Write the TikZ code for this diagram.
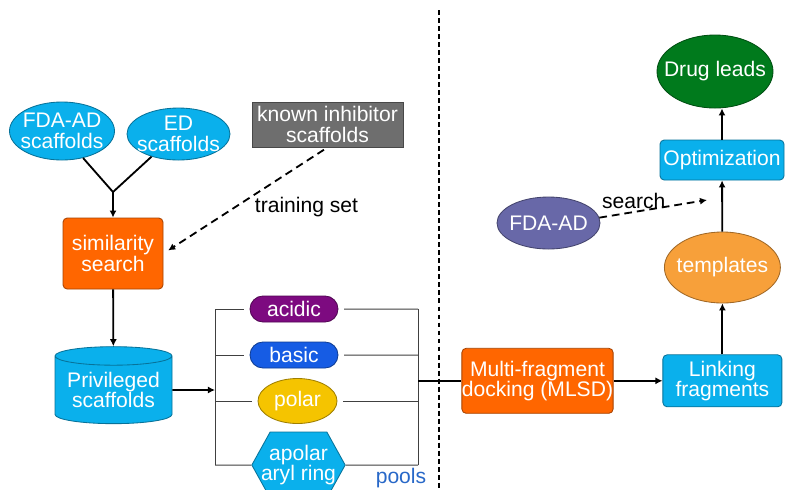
\documentclass[tikz,border=0pt]{standalone}
\usepackage{fontspec}
\setmainfont{Liberation Sans}
\usetikzlibrary{arrows.meta, positioning, shapes.geometric, shapes.misc, shapes.symbols}

\definecolor{skyfill}{RGB}{10,176,236}
\definecolor{orangefill}{RGB}{255,102,0}
\definecolor{tmplfill}{RGB}{247,160,58}
\definecolor{leadfill}{RGB}{0,122,28}
\definecolor{acidfill}{RGB}{125,10,128}
\definecolor{basefill}{RGB}{22,92,228}
\definecolor{polarfill}{RGB}{245,196,0}
\definecolor{knownfill}{RGB}{110,110,110}
\definecolor{slatefill}{RGB}{104,104,168}
\definecolor{poolblue}{RGB}{40,104,200}

\begin{document}
\begin{tikzpicture}[
  >={Latex[length=5pt,width=5pt]},
  every node/.style={font=\fontsize{15}{14.5}\selectfont},
  filled/.style={
    fill=#1, draw=#1!65!black, line width=0.6pt,
    text=white, align=center
  },
  blob/.style={ellipse, inner xsep=-8pt, inner ysep=-4pt},
  procbox/.style={rectangle, rounded corners=3pt, inner sep=0pt},
  pool/.style={rounded rectangle, inner sep=0pt,
    minimum width=2.2cm, minimum height=0.65cm},
  arr/.style={->, line width=1.3pt},
  dasharr/.style={->, line width=1.3pt, dash pattern=on 5.5pt off 3.5pt},
  brk/.style={line width=0.7pt, draw=black!75},
]

  \useasboundingbox[fill=white] (0,0) rectangle (19.625,-12.225);

  % -------------------------------------------------------
  %  Scaffold sources
  % -------------------------------------------------------
  \node[blob, filled=skyfill, minimum width=2.625cm, minimum height=1.45cm]
    (fdaS) at (1.55,-3.275) {FDA-AD\\scaffolds};
  \node[blob, filled=skyfill, minimum width=2.575cm, minimum height=1.3cm]
    (edS) at (4.4625,-3.35) {ED\\scaffolds};
  \node[rectangle, inner sep=0pt, filled=knownfill,
    minimum width=3.775cm, minimum height=1.125cm]
    (known) at (8.1875,-3.1125) {known inhibitor\\scaffolds};

  \coordinate (junc) at (2.825,-4.8);

  \node[procbox, filled=orangefill, minimum width=2.5cm, minimum height=1.775cm]
    (simil) at (2.825,-6.3375) {similarity\\search};
  \node (train) at (7.6625,-5.175) {training set};

  \node[cylinder, shape border rotate=90, aspect=0.2, inner sep=0pt,
    filled=skyfill, minimum width=2.925cm, minimum height=1.925cm]
    (priv) at (2.8375,-9.75) {Privileged\\scaffolds};

  % -------------------------------------------------------
  %  Fragment pools
  % -------------------------------------------------------
  \node[pool, filled=acidfill] (acidic) at (7.35,-7.725) {acidic};
  \node[pool, filled=basefill] (basic)  at (7.35,-8.875) {basic};
  \node[blob, filled=polarfill, minimum width=1.975cm, minimum height=1.125cm]
    (polar) at (7.4375,-10.025) {polar};
  \node[signal, signal to=east and west, signal pointer angle=122,
    inner xsep=-6.5pt, inner ysep=0pt, minimum height=1.65cm, filled=skyfill]
    (apolar) at (7.4625,-11.625) {apolar\\aryl ring};
  \node[text=poolblue] (pools) at (10.025,-11.95) {pools};

  \coordinate (brkL)   at (5.375,-7.725);
  \coordinate (brkR)   at (10.45,-7.725);
  \coordinate (brkIn)  at (5.375,-9.75);
  \coordinate (brkOut) at (10.45,-9.52);

  % -------------------------------------------------------
  %  Docking side
  % -------------------------------------------------------
  \node[procbox, filled=orangefill, minimum width=3.775cm, minimum height=1.625cm]
    (mlsd) at (13.4375,-9.52) {Multi-fragment\\docking (MLSD)};
  \node[procbox, filled=skyfill, minimum width=2.975cm, minimum height=1.3cm]
    (linking) at (18.06,-9.52) {Linking\\fragments};
  \node[blob, filled=tmplfill, minimum width=2.9cm, minimum height=1.775cm]
    (templates) at (18.06,-6.6875) {templates};
  \node[procbox, filled=skyfill, minimum width=3.1cm, minimum height=1.0cm]
    (optim) at (18.05,-4.0) {Optimization};
  \node[blob, filled=leadfill, minimum width=2.9cm, minimum height=1.825cm]
    (drug) at (17.875,-1.7875) {Drug leads};
  \node[blob, filled=slatefill, minimum width=2.575cm, minimum height=1.3cm]
    (fdaAD) at (13.7125,-5.575) {FDA-AD};
  \coordinate (srchEnd) at (17.675,-5.0);

  % -------------------------------------------------------
  %  Divider
  % -------------------------------------------------------
  \coordinate (divTop) at (10.975,-0.25);
  \coordinate (divBot) at (10.975,-12.3);
  \draw[line width=1.3pt, dash pattern=on 3.5pt off 2.2pt] (divTop) -- (divBot);

  % -------------------------------------------------------
  %  Connectors, left half
  % -------------------------------------------------------
  \draw[line width=1.3pt] (fdaS.-52) -- (junc) -- (edS.220);
  \draw[arr] (junc) -- (simil);
  \draw[dasharr, shorten <=3pt, shorten >=4pt] (known.south) -- (simil.east);
  \draw[arr] (simil) -- (priv);
  \draw[arr] (priv) -- (brkIn);

  \foreach \p/\g in {acidic/4pt, basic/4pt, polar/4pt, apolar/0pt} {
    \draw[brk, shorten >=\g] (brkL |- \p) -- (\p);
    \draw[brk, shorten <=\g] (\p) -- (brkR |- \p);
  }
  \draw[brk] (brkL |- acidic) -- (brkL |- apolar);
  \draw[brk] (brkR |- acidic) -- (brkR |- apolar);

  % -------------------------------------------------------
  %  Connectors, right half
  % -------------------------------------------------------
  \draw[line width=1.3pt] (brkOut) -- (mlsd);
  \draw[arr] (mlsd) -- (linking);
  \draw[arr] (linking) -- (templates);
  \draw[arr] (templates) -- (optim);
  \draw[arr] (optim) -- (optim.north |- drug.south);
  \draw[dasharr] (fdaAD.6) -- node[pos=0.32, above, inner sep=2pt]{search} (srchEnd);

\end{tikzpicture}
\end{document}
